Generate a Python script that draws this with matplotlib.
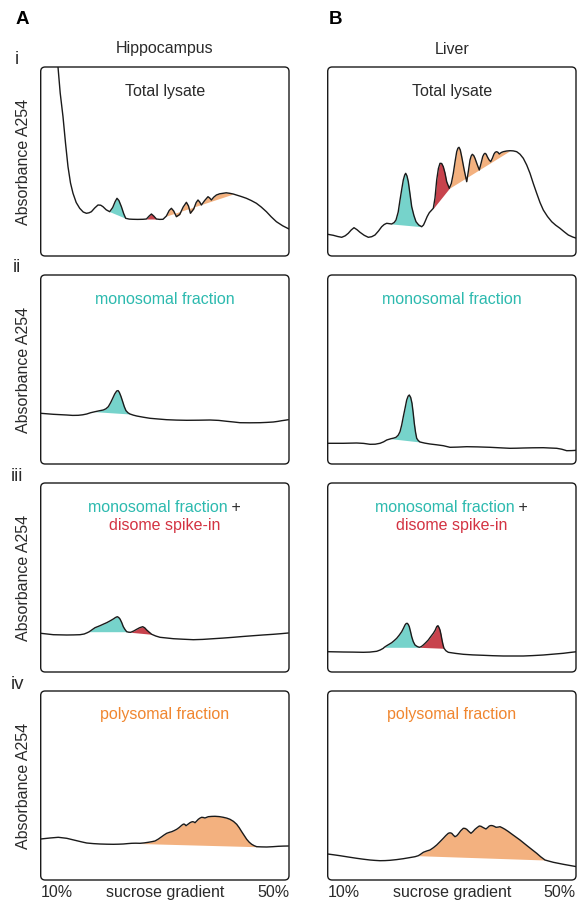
"""
Sucrose gradient A254 profiles: hippocampus (A) and liver (B),
total lysate and the isolated monosome / disome / polysome fractions.
"""
import numpy as np
import matplotlib.pyplot as plt
from matplotlib.patches import FancyBboxPatch

plt.rcParams["font.family"] = ["Liberation Sans", "DejaVu Sans"]

# traces: position along the gradient (0-248) and absorbance (0-189)
hip_total_x = [16.8, 17.3, 19.5, 22.3, 24.8, 27.3, 29.8, 32.3, 35.5, 39, 42.5, 45.7, 48.3, 50.7,
               54, 57.3, 60, 62.3, 65.5, 69, 72, 74.5, 76.3, 78.2, 80.7, 83, 85, 88.5, 92.3, 97,
               102.3, 105.7, 108.5, 110.7, 113, 115.7, 119, 122.3, 125.7, 128.5, 130.7, 133,
               135.7, 139, 142.5, 145.7, 147.8, 149.7, 153, 155.5, 157.3, 159, 160.7, 164,
               167.3, 169, 170.7, 173, 175.7, 179, 182.3, 185.5, 189, 192.5, 195.7, 200.5,
               205.7, 210.5, 215.7, 220.5, 225.7, 230.5, 235.7, 242, 248.3]
hip_total_y = [200, 189, 163, 139.3, 113, 89.3, 73, 62.7, 53.5, 47.7, 44, 42.7, 43.2, 44.3,
               48, 51, 50.8, 49.3, 46.2, 44.3, 48.5, 54.5, 57.7, 55.5, 49.3, 42.3, 37.7, 36.9,
               36.7, 36.6, 36.7, 37, 40, 42, 40, 37, 36.6, 36.7, 40, 45.5, 47.7, 45, 39.3,
               41.5, 49, 53.7, 50, 42.7, 47, 53.5, 56, 54, 51, 55.5, 59.3, 58, 56, 58.8, 61,
               62.2, 62.7, 63.2, 62.7, 62, 61, 59.5, 57.7, 55.5, 52.7, 49, 44.3, 39.2, 34.3,
               30.2, 27]
hip_total_fills = [(69, 85, "mono"), (105.7, 115.7, "di"), (125.7, 192.5, "poly")]

liv_total_x = [0, 5.6, 10, 14, 17.5, 20.6, 23.5, 26.3, 29.3, 32.3, 36.5, 40.6, 44, 47.3, 50.8,
               54, 56.5, 59, 64, 66.5, 68.3, 70.5, 72.3, 74, 75.6, 77, 78, 79.3, 80.6, 82.3, 84,
               86.2, 88.3, 91, 94, 95.8, 97.3, 99.5, 101.6, 103.6, 105.6, 107.3, 109, 110.7,
               112.3, 114, 115.6, 117.3, 119, 121.6, 123.6, 125.6, 127.3, 129, 130.2, 131.3,
               132.6, 134, 136.5, 139, 140.7, 142.3, 143.5, 144.6, 146, 147.3, 149.5, 151.6,
               153.3, 155, 156.2, 157.3, 158.5, 159.6, 161.3, 163, 164.7, 166.3, 167.6, 169,
               170.3, 171.6, 173.6, 175.6, 179, 182.3, 185.6, 189, 192.3, 195.6, 199, 202.3,
               205.6, 209, 212.3, 215.6, 219.8, 224, 228, 232.3, 236.5, 240.6, 245, 249]
liv_total_y = [21.7, 20.7, 19.5, 18.7, 20.2, 22.7, 26, 28.3, 26.3, 23.7, 20.7, 18.7, 19.3, 21,
               25, 29.3, 31.5, 32.7, 32, 33.5, 36, 44, 56, 66.5, 76, 81, 82.7, 80, 74.3, 62,
               49.3, 40.5, 34.3, 31, 29.3, 31, 34.3, 39.5, 43.3, 45.5, 47.7, 58, 76, 87.5,
               92.7, 92.5, 89.3, 83, 74.3, 67.7, 72.5, 82.7, 94, 104.3, 107.8, 108.7, 106,
               99.3, 86, 74.3, 85, 96, 100, 101.7, 100.5, 97.7, 91.5, 86, 92.5, 99.3, 101.8,
               102.7, 101.8, 99.3, 96.2, 94.3, 97.8, 102, 103.8, 104.3, 103.6, 102, 103.5,
               104.3, 105, 105.3, 105.1, 104.3, 101.8, 97.7, 91, 82.7, 72.5, 62.7, 53.5, 46,
               39.5, 34.3, 30.8, 27.7, 24.2, 21, 19, 17.7]
liv_total_fills = [(63.3, 94, "mono"), (105.6, 121.6, "di"), (121.6, 182.3, "poly")]

hip_mono_x = [0, 12.6, 26, 32, 37.6, 42, 46, 50, 54.3, 58.5, 62.6, 65.2, 67.6, 70, 72, 74,
              76, 77.4, 78.6, 80.3, 82, 83.6, 85.3, 87.3, 89.3, 92.5, 96, 102.5, 109.3, 117.5,
              126, 136, 146, 158, 169.3, 178, 186, 193, 199.3, 209, 219.3, 226, 232.6, 237,
              241, 244.5, 247.6]
hip_mono_y = [50.7, 49.7, 49, 48.6, 48.7, 49.2, 50, 51.3, 52.3, 53.2, 54, 55.2, 57.3, 61.5,
              65.7, 70, 73, 73.4, 71.7, 67.5, 62.3, 57.3, 53.3, 51.2, 50, 48.9, 48, 46.8,
              45.7, 45, 44.3, 43.9, 43.7, 43.8, 44, 43.6, 42.7, 42, 41.3, 41.2, 41.3, 41.6,
              42, 42.6, 43.3, 43.8, 44.3]
hip_mono_fills = [(54.3, 89.3, "mono")]

liv_mono_x = [0, 15.6, 29, 36, 42.3, 47.5, 52.3, 56, 59, 63.3, 66, 68.3, 70.5, 72.3, 74,
              75.6, 77.4, 79, 80.4, 81.6, 83, 84.3, 85.5, 86.6, 87.8, 89, 90.6, 92.3, 97,
              102.3, 109, 115.6, 122.3, 130, 139, 150, 162.3, 172, 182.3, 189, 195.6, 205,
              215.6, 222, 229, 234, 239, 244, 249]
liv_mono_y = [20.7, 20.7, 21, 20.6, 19.7, 19.8, 20.7, 22.2, 24, 25.3, 25.9, 26.7, 28.8,
              32.3, 39, 47.3, 56, 64, 67.8, 69, 66.5, 60.7, 51, 40.7, 32, 25.7, 23.4, 22,
              20.9, 20, 19.2, 18.3, 16.7, 16.9, 17.3, 17.1, 16.7, 16.2, 15.7, 15.8, 16, 16.2,
              16.3, 16, 15.7, 14.8, 13.3, 13.4, 13.7]
liv_mono_fills = [(63.3, 92.3, "mono")]

hip_di_x = [0, 12.6, 26, 33, 39.3, 43.5, 46.6, 48.6, 51, 54.3, 59.3, 63, 66, 69.5, 72.6,
            74.8, 76.6, 78, 79.3, 81, 82.6, 84.3, 86, 88, 90, 93, 96, 99, 102, 104, 106,
            108.5, 111, 115, 119.3, 126, 132.6, 142, 152.6, 162, 172.6, 182, 192.6, 202,
            212.6, 222, 232.6, 240, 247.6]
hip_di_y = [38.7, 37.3, 37, 37.1, 37.3, 38, 39.3, 40.3, 42, 44.3, 46.3, 48, 49.3, 51.2, 53,
            54.5, 55.3, 54.5, 53, 49.5, 45.3, 42.5, 40.3, 39.8, 39.7, 41, 42.7, 44.3, 45.3,
            44.2, 42, 39.8, 37.7, 36, 34.7, 34, 33.3, 32.8, 32.3, 32.6, 33.3, 33.9, 34.7,
            35.5, 36.3, 37, 37.7, 38.3, 39]
hip_di_fills = [(48.6, 86, "mono"), (90, 111, "di")]

liv_di_x = [0, 15.6, 25, 35.6, 42, 49, 52.5, 55.6, 56.6, 59, 61.5, 64, 66.5, 69, 71.5, 74,
            75.8, 77.3, 78.5, 79.6, 80.6, 81.6, 82.8, 84, 85.5, 87.3, 89.5, 91.6, 93.6,
            95.6, 98, 100.6, 103, 105.6, 107.5, 109, 109.7, 110.3, 111.3, 112.3, 113.3,
            114.3, 115.3, 116.3, 118.3, 120.6, 128, 135.6, 145, 155.6, 165, 175.6, 185,
            195.6, 205, 215.6, 225, 235.6, 242, 249]
liv_di_y = [20.3, 20, 19.9, 19.7, 19.9, 20.7, 22, 23.7, 24.7, 26.3, 27.8, 29.3, 31.4, 33.7,
            36.8, 40.3, 43.8, 47, 48.5, 48.7, 47.5, 45.3, 40.5, 35.3, 30.5, 27, 25.5, 24.7,
            25.4, 27, 29.3, 32, 35.3, 38.7, 41.8, 45.3, 46, 46.3, 44.5, 42, 37.5, 32, 27.3,
            23.7, 21.2, 19.7, 18.6, 17.7, 17.1, 16.7, 16.3, 16, 16, 16, 16.4, 17, 17.8, 18.7,
            19.5, 20.3]
liv_di_fills = [(56.6, 91.6, "mono"), (91.6, 116.3, "di")]

hip_poly_x = [0, 9.3, 17.6, 26, 31, 36, 41, 46, 52.5, 59.3, 66, 72.6, 77.5, 82.6, 87,
              91, 95, 99.3, 103.5, 107.6, 111, 114.3, 117.6, 121, 123.5, 126, 128.5, 131,
              133.5, 136, 138.5, 141, 142.2, 143.3, 144.3, 145.3, 147.3, 149.3, 150.7, 152,
              153.2, 154.3, 156, 157.6, 159.3, 161, 162.6, 164.3, 166, 167.6, 171, 174.3,
              178.5, 182.6, 186, 189.3, 192.8, 196, 198.5, 201, 203.5, 206, 208.5, 211,
              213.5, 216, 221, 226, 232, 237.6, 242.6, 247.6]
hip_poly_y = [41, 42, 42.7, 41.7, 40.5, 39.3, 38.1, 37, 36.4, 36, 35.8, 35.7, 35.8, 36,
              36.4, 36.7, 36.8, 36.7, 37.1, 37.7, 38.3, 39, 40.9, 43.3, 45.1, 46.7, 47.6,
              48.3, 49.4, 50.7, 52.5, 54.7, 55.6, 56, 55.4, 54.3, 55.8, 57.3, 58, 58.3, 58,
              57.3, 59, 60.7, 61.9, 62.7, 62.5, 62, 62.7, 63.3, 63.6, 63.7, 63.4, 62.7, 61.9,
              60.7, 58.6, 55.7, 52.3, 48.3, 44.5, 40.7, 37.8, 35.7, 34.3, 33.3, 33.1, 33,
              33.3, 33.7, 33.9, 34]
hip_poly_fills = [(91, 216, "poly")]

liv_poly_x = [0, 6, 12.3, 20.5, 29, 35.6, 42.3, 47.3, 52.3, 57.3, 62.3, 69, 75.6, 81.5,
              87.3, 90.6, 93, 95.6, 99, 102.3, 105.7, 109, 112.3, 115.6, 118.2, 120.6, 122.3,
              124, 125.7, 127.3, 129, 130.6, 133, 135.6, 137.3, 139, 141.2, 143.3, 145.3,
              147.3, 149.5, 151.6, 153.3, 155, 156.7, 158.3, 160, 161.6, 163.3, 165, 166.7,
              168.3, 170.3, 172.3, 174.8, 177.3, 180.6, 184, 188, 192.3, 196.5, 200.6, 204.8,
              209, 213, 217.3, 221.5, 225.6, 230.6, 235.6, 242.3, 249]
liv_poly_y = [26, 25.2, 24.3, 23, 21.7, 20.8, 20, 19.6, 19.3, 19.4, 19.7, 20.4, 21.3, 22.3,
              23.3, 24.3, 25.8, 27.7, 29, 30, 32.3, 35, 38.3, 41.7, 44.5, 46.7, 47.2, 46.7,
              44.8, 43.3, 44.2, 46, 49.2, 51.7, 51.6, 50.7, 48.5, 46.7, 48.5, 50.7, 52.5, 54,
              53.7, 52.7, 51.8, 51, 52.5, 54, 54.5, 54.3, 53.6, 52.7, 52.9, 53.3, 52.1, 50.7,
              48.5, 46, 43.1, 40, 36.6, 33.3, 30, 26.7, 23.2, 20, 18.8, 17.7, 16.7, 15.7,
              14.5, 13.3]
liv_poly_fills = [(90.6, 217.3, "poly")]

panels = [
    [(hip_total_x, hip_total_y, hip_total_fills), (liv_total_x, liv_total_y, liv_total_fills)],
    [(hip_mono_x, hip_mono_y, hip_mono_fills), (liv_mono_x, liv_mono_y, liv_mono_fills)],
    [(hip_di_x, hip_di_y, hip_di_fills), (liv_di_x, liv_di_y, liv_di_fills)],
    [(hip_poly_x, hip_poly_y, hip_poly_fills), (liv_poly_x, liv_poly_y, liv_poly_fills)],
]

fill_colors = {"mono": "#76D3CB", "di": "#C8434D", "poly": "#F3B17F"}
text_colors = {"mono": "#2DBAAF", "di": "#D33342", "poly": "#F0862F", "dark": "#2a2a2a"}
row_labels = ["i", "ii", "iii", "iv"]
FS = 11.5

W, H = 579, 905
XMAX, YMAX = 248.3, 189
col_left = [40.7, 327.7]
row_top = [67, 275, 483, 691]

fig = plt.figure(figsize=(W / 100, H / 100), dpi=100)


def draw_trace(ax, x, y, fills):
    x = np.asarray(x, float)
    y = np.asarray(y, float)
    for x0, x1, kind in fills:
        inside = (x > x0) & (x < x1)
        xs = np.concatenate([[x0], x[inside], [x1]])
        ys = np.interp(xs, x, y)
        chord = np.interp(xs, [x0, x1], [ys[0], ys[-1]])
        ax.fill_between(xs, ys, chord, color=fill_colors[kind], lw=0, zorder=1)
    ax.plot(x, y, color="#1a1a1a", lw=1.0, zorder=3, solid_capstyle="round")


for r, row in enumerate(panels):
    for c, (x, y, fills) in enumerate(row):
        left = col_left[c] / W
        bottom = 1 - (row_top[r] + YMAX) / H
        ax = fig.add_axes([left, bottom, XMAX / W, YMAX / H])
        ax.set_xlim(0, XMAX)
        ax.set_ylim(0, YMAX)
        ax.set_axis_off()
        draw_trace(ax, x, y, fills)
        box = FancyBboxPatch((0, 0), 1, 1, boxstyle="round,pad=0,rounding_size=0.018",
                             mutation_aspect=XMAX / YMAX, transform=ax.transAxes,
                             facecolor="none", edgecolor="#1a1a1a", lw=1.0,
                             clip_on=False, zorder=4)
        ax.add_patch(box)

        # panel titles inside the box
        cx = 0.5
        if r == 0:
            ax.text(cx, 1 - 24 / YMAX, "Total lysate", transform=ax.transAxes,
                    ha="center", va="center", fontsize=FS, color=text_colors["dark"])
        elif r == 1:
            ax.text(cx, 1 - 24 / YMAX, "monosomal fraction", transform=ax.transAxes,
                    ha="center", va="center", fontsize=FS, color=text_colors["mono"])
        elif r == 2:
            t1 = ax.text(cx - 0.03, 1 - 24 / YMAX, "monosomal fraction",
                         transform=ax.transAxes, ha="center", va="center",
                         fontsize=FS, color=text_colors["mono"])
            ax.annotate(" +", xycoords=t1, xy=(1, 0.5), va="center", ha="left",
                        fontsize=FS, color=text_colors["dark"])
            ax.text(cx, 1 - 42 / YMAX, "disome spike-in", transform=ax.transAxes,
                    ha="center", va="center", fontsize=FS, color=text_colors["di"])
        else:
            ax.text(cx, 1 - 23.5 / YMAX, "polysomal fraction", transform=ax.transAxes,
                    ha="center", va="center", fontsize=FS, color=text_colors["poly"])

        if r == 3:
            ax.text(0, -12 / YMAX, "10%", transform=ax.transAxes, ha="left",
                    va="center", fontsize=FS, color=text_colors["dark"])
            ax.text(0.5, -12 / YMAX, "sucrose gradient", transform=ax.transAxes,
                    ha="center", va="center", fontsize=FS, color=text_colors["dark"])
            ax.text(1, -12 / YMAX, "50%", transform=ax.transAxes, ha="right",
                    va="center", fontsize=FS, color=text_colors["dark"])

    # row numeral and y label on the left
    fig.text(17 / W, 1 - (row_top[r] - 7) / H, row_labels[r], ha="center",
             va="center", fontsize=13.5, color=text_colors["dark"])
    fig.text(24 / W, 1 - (row_top[r] + YMAX / 2) / H, "Absorbance A254",
             rotation=90, ha="center", va="center", fontsize=FS,
             color=text_colors["dark"])

fig.text(22 / W, 1 - 19 / H, "A", ha="center", va="center", fontsize=13.5,
         fontweight="bold", color="black")
fig.text(335 / W, 1 - 19 / H, "B", ha="center", va="center", fontsize=13.5,
         fontweight="bold", color="black")
fig.text(165 / W, 1 - 49 / H, "Hippocampus", ha="center", va="center",
         fontsize=FS, color=text_colors["dark"])
fig.text(452.5 / W, 1 - 49 / H, "Liver", ha="center", va="center",
         fontsize=FS, color=text_colors["dark"])

fig.savefig("out.png", dpi=100, facecolor="white")
